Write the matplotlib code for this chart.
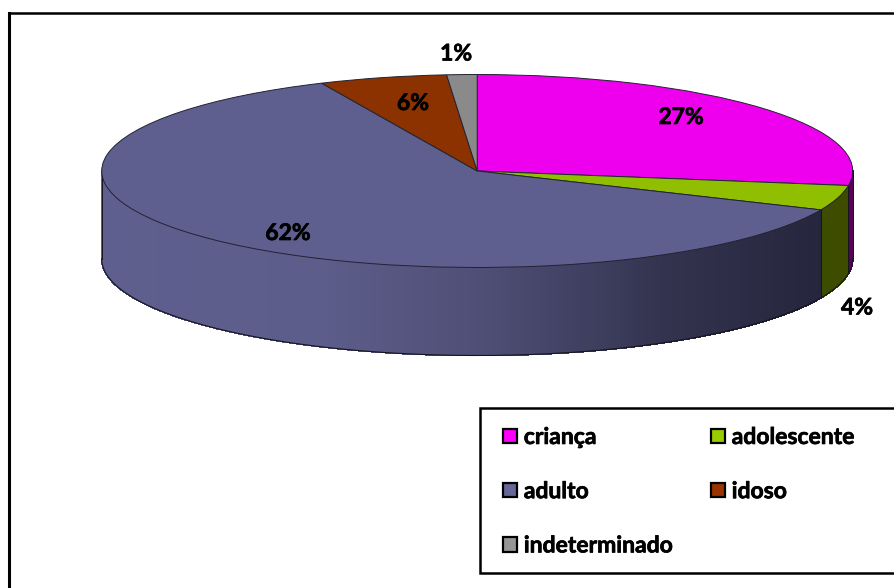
import numpy as np
import matplotlib
matplotlib.use("Agg")
import matplotlib.pyplot as plt
import matplotlib.patheffects as pe
from matplotlib.collections import PolyCollection
from matplotlib.patches import Patch, Rectangle

# --- data ---
categories = ["criança", "adolescente", "adulto", "idoso", "indeterminado"]
values = [27.4, 4.2, 61.6, 5.5, 1.3]
pct_labels = ["27%", "4%", "62%", "6%", "1%"]

# --- styles ---
top_colors = ["#EE00EE", "#8FBF00", "#5F5F8F", "#8B3200", "#8A8A8A"]
legend_colors = ["#FF00FF", "#99CC00", "#666699", "#993300", "#969696"]
wall_colors = ["#5A005A", "#3E4C00", None, None, None]
W, H = 895, 588
CX, CY, RX, RY, DEPTH_PX = 477.2, 171.0, 375.5, 96.5, 88.0
label_px = [(681, 117.5), (857, 308), (288, 233.5), (413, 103.5), (456, 54)]
FS = 16.5
thick = [pe.withStroke(linewidth=0.5, foreground="black")]

plt.rcParams["font.family"] = ["Lato", "DejaVu Sans"]
plt.rcParams["font.weight"] = "bold"

fig = plt.figure(figsize=(W / 100, H / 100), dpi=100, facecolor="white")
ax = fig.add_axes([0, 0, 1, 1])


def px(x, y):
    return (x - CX) / RX, (CY - y) / RY


wedges, _ = ax.pie(values, colors=top_colors, startangle=90, counterclock=False,
                   wedgeprops=dict(edgecolor="#222233", linewidth=0.7, zorder=5))
ax.set_aspect("auto")
ax.set_xlim(px(0, 0)[0], px(W, 0)[0])
ax.set_ylim(px(0, H)[1], px(0, 0)[1])
ax.axis("off")

# --- side wall of the disc, derived from the same values ---
depth = DEPTH_PX / RY
edges = np.concatenate([[0], np.cumsum(values)]) * 3.6


def wall_color(x):
    stops_x = [-1.0, -0.42, 0.05, 0.5, 0.92]
    dark = [np.array(matplotlib.colors.to_rgb(c)) for c in
            ["#5F5F8F", "#5D5D8B", "#4D4D74", "#33334F", "#25253D"]]
    return [np.interp(x, stops_x, [d[i] for d in dark]) for i in range(3)]


polys, cols = [], []
for i, color in enumerate(wall_colors):
    a, b = max(edges[i], 90), min(edges[i + 1], 270)
    if b <= a:
        continue
    th = np.radians(np.arange(a, b, 0.5).tolist() + [b])
    xs, ys = np.sin(th), np.cos(th)
    for j in range(len(th) - 1):
        polys.append([(xs[j], ys[j]), (xs[j + 1], ys[j + 1]),
                      (xs[j + 1], ys[j + 1] - depth), (xs[j], ys[j] - depth)])
        cols.append(color if color else wall_color((xs[j] + xs[j + 1]) / 2))
ax.add_collection(PolyCollection(polys, facecolors=cols, edgecolors=cols,
                                 linewidths=0.6, antialiaseds=False, zorder=3))

# wall outlines
th = np.radians(np.linspace(90, 270, 300))
ax.plot(np.sin(th), np.cos(th) - depth, color="#15151F", lw=0.8, zorder=4)
for e in [90, edges[1], edges[2], 270]:
    t = np.radians(e)
    ax.plot([np.sin(t)] * 2, [np.cos(t), np.cos(t) - depth], color="#15151F", lw=0.7, zorder=4)

# --- percentage labels ---
for s, (x, y) in zip(pct_labels, label_px):
    xd, yd = px(x, y)
    ax.text(xd, yd, s, ha="center", va="center", fontsize=FS, fontweight="bold",
            color="black", zorder=8, path_effects=thick)

# --- outer frame (top and left only are visible) ---
x0, y0 = px(9, 13)
x1, _ = px(W + 5, 0)
_, y1 = px(0, H + 5)
ax.plot([x0, x1], [y0, y0], color="black", lw=1.8, zorder=9, clip_on=True)
ax.plot([x0, x0], [y0, y1], color="black", lw=2.2, zorder=9, clip_on=True)

# --- legend box ---
bx0, by0 = px(480, 573)
bx1, by1 = px(W + 10, 407.5)
ax.add_patch(Rectangle((bx0, by0), bx1 - bx0, by1 - by0, facecolor="white",
                       edgecolor="black", linewidth=1.8, zorder=9))
handles = [Patch(facecolor=c, edgecolor="black", linewidth=1.6) for c in legend_colors]
order = [0, 2, 4, 1, 3]
leg = ax.legend([handles[i] for i in order], [categories[i] for i in order], ncol=2,
                loc="upper left", bbox_to_anchor=px(491.5, 415.5), bbox_transform=ax.transData,
                frameon=False, prop=dict(family="Lato", weight="bold", size=FS),
                handlelength=0.61, handleheight=0.61, handletextpad=0.3,
                labelspacing=1.45, columnspacing=1.67, borderpad=0.5, borderaxespad=0)
leg.set_zorder(10)
for t in leg.get_texts():
    t.set_path_effects(thick)

fig.savefig("out.png", dpi=100, facecolor="white")
